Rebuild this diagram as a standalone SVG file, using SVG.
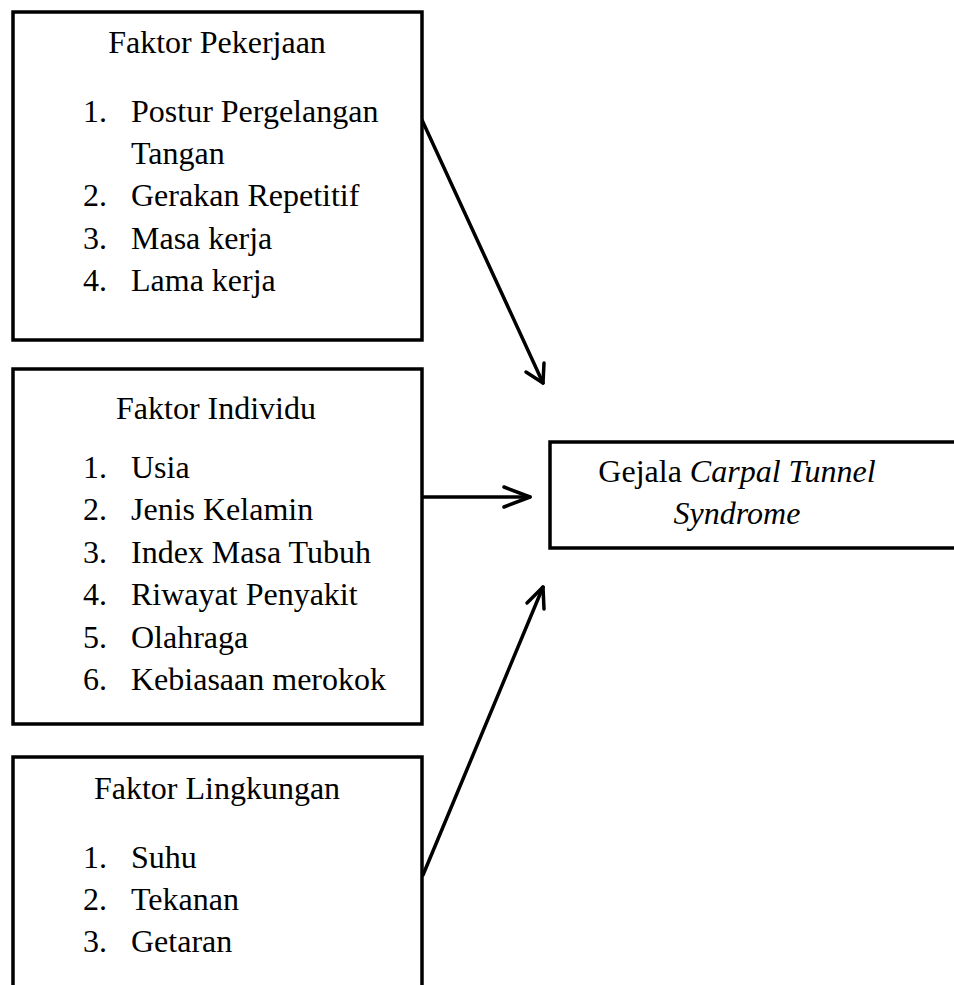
<svg xmlns="http://www.w3.org/2000/svg" width="954" height="985" viewBox="0 0 954 985">
<style>
.box{fill:#fff;stroke:#000;stroke-width:3.5}
.t{font-family:"Liberation Serif","Times New Roman",serif;font-size:32px;fill:#000}
.c{text-anchor:middle}
.i{font-style:italic}
.ln{fill:none;stroke:#000;stroke-width:3.5;stroke-linecap:round;stroke-linejoin:round}
</style>
<rect width="954" height="985" fill="#fff"/>
<g id="connectors">
<path class="ln" d="M422,120 L543,383"/>
<path class="ln" d="M526,372 L543,383 L544,363"/>
<path class="ln" d="M422,497 L530,497"/>
<path class="ln" d="M504,487 L530,497 L504,507"/>
<path class="ln" d="M423,875 L543,587"/>
<path class="ln" d="M527,603 L543,587 L544,609"/>
</g>
<g id="faktor-pekerjaan">
<rect class="box" x="13" y="12" width="409" height="328"/>
<text class="t c" x="217" y="53">Faktor Pekerjaan</text>
<text class="t" x="83" y="122">1.</text><text class="t" x="131" y="122">Postur Pergelangan</text>
<text class="t" x="131" y="164">Tangan</text>
<text class="t" x="83" y="206">2.</text><text class="t" x="131" y="206">Gerakan Repetitif</text>
<text class="t" x="83" y="249">3.</text><text class="t" x="131" y="249">Masa kerja</text>
<text class="t" x="83" y="291">4.</text><text class="t" x="131" y="291">Lama kerja</text>
</g>
<g id="faktor-individu">
<rect class="box" x="13" y="369" width="409" height="355"/>
<text class="t c" x="216" y="419">Faktor Individu</text>
<text class="t" x="83" y="478">1.</text><text class="t" x="131" y="478">Usia</text>
<text class="t" x="83" y="520">2.</text><text class="t" x="131" y="520">Jenis Kelamin</text>
<text class="t" x="83" y="563">3.</text><text class="t" x="131" y="563">Index Masa Tubuh</text>
<text class="t" x="83" y="605">4.</text><text class="t" x="131" y="605">Riwayat Penyakit</text>
<text class="t" x="83" y="648">5.</text><text class="t" x="131" y="648">Olahraga</text>
<text class="t" x="83" y="690">6.</text><text class="t" x="131" y="690">Kebiasaan merokok</text>
</g>
<g id="faktor-lingkungan">
<rect class="box" x="13" y="757" width="409" height="260"/>
<text class="t c" x="217" y="799">Faktor Lingkungan</text>
<text class="t" x="83" y="868">1.</text><text class="t" x="131" y="868">Suhu</text>
<text class="t" x="83" y="910">2.</text><text class="t" x="131" y="910">Tekanan</text>
<text class="t" x="83" y="952">3.</text><text class="t" x="131" y="952">Getaran</text>
</g>
<g id="gejala-cts">
<rect class="box" x="550" y="442" width="420" height="106"/>
<text class="t c" x="737" y="482">Gejala <tspan class="i">Carpal Tunnel</tspan></text>
<text class="t c i" x="737" y="524">Syndrome</text>
</g>
</svg>
